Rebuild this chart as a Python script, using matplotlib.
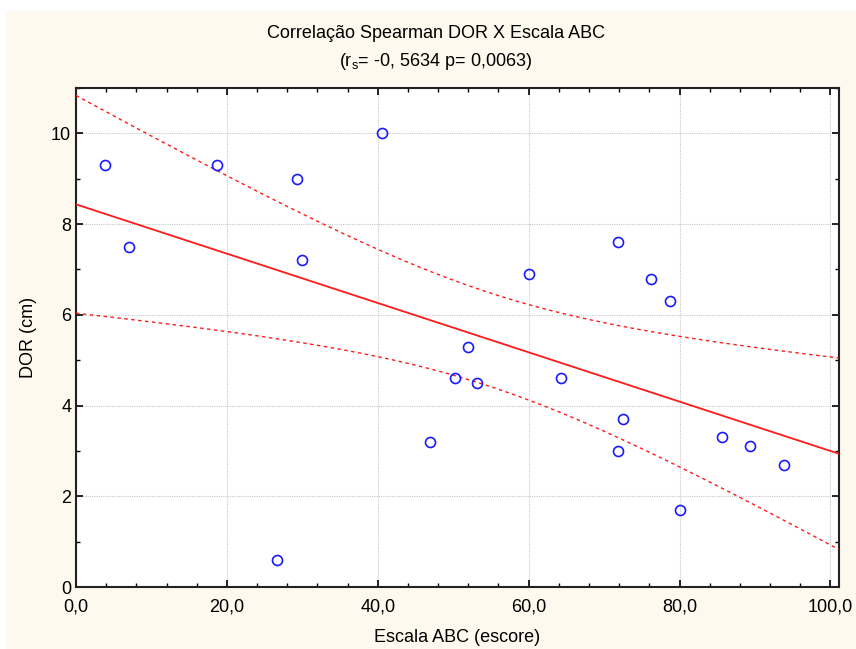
import numpy as np
import matplotlib
matplotlib.use("Agg")
import matplotlib.pyplot as plt
from matplotlib.ticker import MultipleLocator, FuncFormatter
from matplotlib.patches import Rectangle

plt.rcParams['font.family'] = ['Liberation Sans', 'DejaVu Sans']
plt.rcParams['mathtext.fontset'] = 'custom'
plt.rcParams['mathtext.rm'] = 'Liberation Sans'
plt.rcParams['mathtext.it'] = 'Liberation Sans:italic'

# Data
escala_abc = [3.9, 7.05, 18.7, 29.35, 29.97, 40.6, 60.0, 71.8, 76.2, 78.75, 51.9,
              46.9, 50.3, 53.1, 64.3, 72.5, 71.9, 80.0, 85.6, 89.3, 93.8, 26.7]
dor_cm = [9.3, 7.5, 9.3, 9.0, 7.2, 10.0, 6.9, 7.6, 6.8, 6.3, 5.3,
          3.2, 4.6, 4.5, 4.6, 3.7, 3.0, 1.7, 3.3, 3.1, 2.7, 0.6]
x_ticks = [0, 20, 40, 60, 80, 100]
y_ticks = [0, 2, 4, 6, 8, 10]
title1 = "Correlação Spearman DOR X Escala ABC"
title2 = "(r$_\\mathrm{s}$= -0, 5634 p= 0,0063)"
t_crit = 2.086  # t(0.975, n-2=20)

x = np.array(escala_abc)
y = np.array(dor_cm)
n = len(x)
b, a = np.polyfit(x, y, 1)
resid = y - (a + b * x)
s = np.sqrt(np.sum(resid ** 2) / (n - 2))
sxx = np.sum((x - x.mean()) ** 2)

xmin, xmax = 0, 101.1
xs = np.linspace(xmin, xmax, 300)
yfit = a + b * xs
half = t_crit * s * np.sqrt(1.0 / n + (xs - x.mean()) ** 2 / sxx)

fig = plt.figure(figsize=(8.56, 6.49), dpi=100)
fig.patch.set_facecolor('white')
fig.patches.append(Rectangle((6 / 856, 0), 1 - 6 / 856, 1 - 11 / 649,
                             transform=fig.transFigure, facecolor='#fdf9ee',
                             edgecolor='none', zorder=-10))

ax = fig.add_axes([76 / 856, 1 - 587 / 649, (838.7 - 76) / 856, (587 - 88) / 649])
ax.set_facecolor('white')

ax.plot(xs, yfit, color='#ff1a1a', lw=1.3, zorder=3)
ax.plot(xs, yfit + half, color='#ff1a1a', lw=1.0, ls=(0, (2.5, 2.5)), zorder=3)
ax.plot(xs, yfit - half, color='#ff1a1a', lw=1.0, ls=(0, (2.5, 2.5)), zorder=3)
ax.plot(x, y, ls='none', marker='o', ms=7.2, mfc='none', mec='#1a1aff', mew=1.2, zorder=4)

ax.set_xlim(xmin, xmax)
ax.set_ylim(0, 11)
ax.set_xticks(x_ticks)
ax.set_yticks(y_ticks)
ax.xaxis.set_minor_locator(MultipleLocator(4))
ax.yaxis.set_minor_locator(MultipleLocator(1))
ax.xaxis.set_major_formatter(FuncFormatter(lambda v, p: f"{v:.1f}".replace('.', ',')))
ax.tick_params(which='both', direction='in', top=True, right=True, labelsize=13, colors='black')
ax.tick_params(which='major', length=5, width=1.2)
ax.tick_params(which='minor', length=3, width=1.0)
ax.tick_params(axis='x', pad=8)
ax.grid(True, which='major', color='#c8c8c8', ls=(0, (1, 1)), lw=0.8)
for sp in ax.spines.values():
    sp.set_linewidth(1.5)
    sp.set_color('#222222')

ax.set_xlabel("Escala ABC (escore)", fontsize=13, labelpad=10)
ax.set_ylabel("DOR (cm)", fontsize=13, labelpad=10)

fig.text(0.509, 1 - 33 / 649, title1, ha='center', va='center', fontsize=13)
fig.text(0.509, 1 - 62 / 649, title2, ha='center', va='center', fontsize=13)

fig.savefig("out.png", dpi=100, facecolor=fig.get_facecolor())
